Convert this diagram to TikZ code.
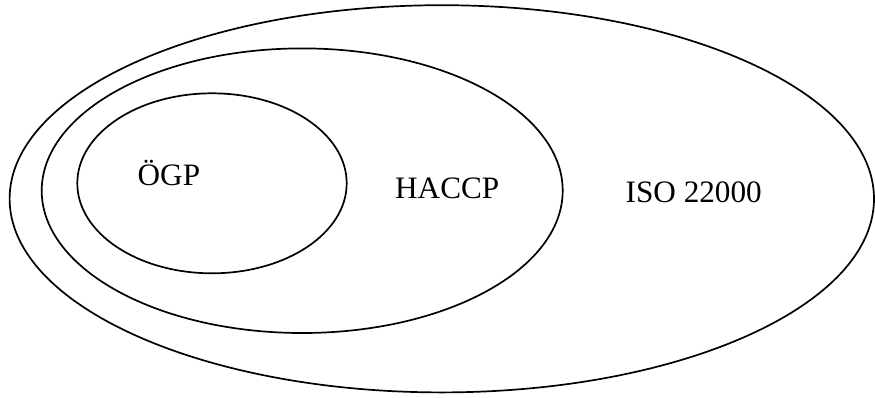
\documentclass[tikz,border=0pt]{standalone}
\usepackage{fontspec}
\setmainfont{Liberation Serif}
\begin{document}
\begin{tikzpicture}[x=1pt,y=-1pt,
  ring/.style={draw=black,line width=1.7pt},
  lbl/.style={font=\fontsize{31.2}{37}\selectfont,inner sep=0pt,anchor=base west}]
\useasboundingbox (0,0) rectangle (875,397);
\fill[white] (0,0) rectangle (875,397);
\draw[ring] (441.8,198.8) ellipse [x radius=432.2pt, y radius=193.6pt];
\draw[ring] (302.2,190.7) ellipse [x radius=260.5pt, y radius=142.3pt];
\draw[ring] (212,183.3) ellipse [x radius=134.7pt, y radius=90pt];
\node[lbl] (ogp) at (137.5,185) {ÖGP};
\node[lbl] (haccp) at (395,198.3) {HACCP};
\node[lbl] (iso) at (625.5,202.3) {ISO 22000};
\end{tikzpicture}
\end{document}
